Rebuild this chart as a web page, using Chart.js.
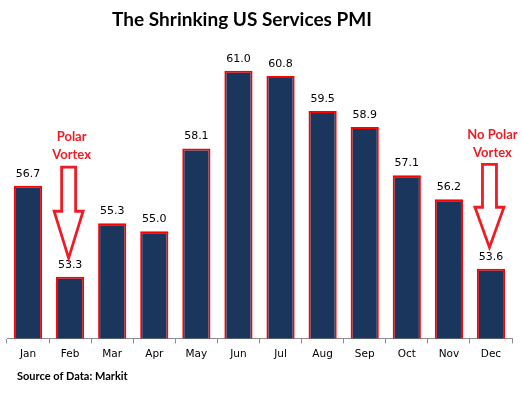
<!DOCTYPE html>
<html lang="en">
<head>
    <meta charset="UTF-8">
    <title>The Shrinking US Services PMI</title>
    <script src="https://cdn.jsdelivr.net/npm/chart.js"></script>
    <style>
        body {
            margin: 0;
            background-color: #ffffff;
        }
        .chart-container {
            position: relative;
            width: 522px;
            height: 397px;
        }
    </style>
</head>
<body>
    <div class="chart-container">
        <canvas id="pmiChart"></canvas>
    </div>

    <script>
        // Data
        const months = ['Jan', 'Feb', 'Mar', 'Apr', 'May', 'Jun', 'Jul', 'Aug', 'Sep', 'Oct', 'Nov', 'Dec'];
        const pmiValues = [56.7, 53.3, 55.3, 55.0, 58.1, 61.0, 60.8, 59.5, 58.9, 57.1, 56.2, 53.6];

        // Annotation callouts: month index, text lines, arrow top / head base / tip in PMI units
        const callouts = [
            { index: 1, lines: ['Polar', 'Vortex'], top: 57.4, head: 55.75, tip: 54.0 },
            { index: 11, lines: ['No Polar', 'Vortex'], top: 57.5, head: 55.9, tip: 54.4 }
        ];

        const navy = '#1b365d';
        const red = '#ee1c25';

        // Value labels above each bar
        const valueLabels = {
            id: 'valueLabels',
            afterDatasetsDraw(chart) {
                const ctx = chart.ctx;
                const meta = chart.getDatasetMeta(0);
                ctx.save();
                ctx.font = '11px "DejaVu Sans"';
                ctx.fillStyle = '#000';
                ctx.textAlign = 'center';
                ctx.textBaseline = 'middle';
                meta.data.forEach((bar, i) => {
                    ctx.fillText(pmiValues[i].toFixed(1), bar.x, bar.y - 12);
                });
                ctx.restore();
            }
        };

        // Hollow red arrows with text
        const arrows = {
            id: 'arrows',
            afterDatasetsDraw(chart) {
                const ctx = chart.ctx;
                const x = chart.scales.x;
                const y = chart.scales.y;
                ctx.save();
                callouts.forEach(c => {
                    const cx = x.getPixelForValue(c.index) - 1.5;
                    const yTop = y.getPixelForValue(c.top);
                    const yHead = y.getPixelForValue(c.head);
                    const yTip = y.getPixelForValue(c.tip);
                    const shaft = 7;
                    const wing = 14.5;
                    ctx.beginPath();
                    ctx.moveTo(cx - shaft, yTop);
                    ctx.lineTo(cx + shaft, yTop);
                    ctx.lineTo(cx + shaft, yHead);
                    ctx.lineTo(cx + wing, yHead);
                    ctx.lineTo(cx, yTip);
                    ctx.lineTo(cx - wing, yHead);
                    ctx.lineTo(cx - shaft, yHead);
                    ctx.closePath();
                    ctx.fillStyle = '#fff';
                    ctx.fill();
                    ctx.lineWidth = 2.8;
                    ctx.strokeStyle = red;
                    ctx.stroke();

                    ctx.font = 'bold 13px Lato';
                    ctx.fillStyle = red;
                    ctx.textAlign = 'center';
                    ctx.textBaseline = 'middle';
                    c.lines.forEach((line, k) => {
                        ctx.fillText(line, cx + 3, yTop - 30 + k * 18);
                    });
                });
                ctx.restore();
            }
        };

        // Title and source note
        const texts = {
            id: 'texts',
            afterDraw(chart) {
                const ctx = chart.ctx;
                ctx.save();
                ctx.fillStyle = '#000';
                ctx.textBaseline = 'middle';
                ctx.textAlign = 'center';
                ctx.font = 'bold 19px Lato';
                ctx.fillText('The Shrinking US Services PMI', 242, 20);
                ctx.textAlign = 'left';
                ctx.font = 'bold 11px Lato';
                ctx.fillText('Source of Data: Markit', 17, 376);
                ctx.restore();
            }
        };

        const ctx = document.getElementById('pmiChart').getContext('2d');
        new Chart(ctx, {
            type: 'bar',
            data: {
                labels: months,
                datasets: [{
                    data: pmiValues,
                    backgroundColor: navy,
                    borderColor: '#ff0000',
                    borderWidth: 2,
                    categoryPercentage: 1,
                    barPercentage: 0.67
                }]
            },
            options: {
                responsive: true,
                maintainAspectRatio: false,
                animation: false,
                layout: {
                    padding: { left: 7, right: 10, top: 44, bottom: 31 }
                },
                plugins: {
                    legend: { display: false },
                    title: { display: false },
                    tooltip: { enabled: false }
                },
                scales: {
                    x: {
                        grid: {
                            drawOnChartArea: false,
                            drawTicks: true,
                            tickLength: 5,
                            color: '#8c8c8c'
                        },
                        border: { display: true, color: '#8c8c8c' },
                        ticks: {
                            padding: 5,
                            color: '#000',
                            font: { family: 'DejaVu Sans', size: 10.5 }
                        }
                    },
                    y: {
                        display: false,
                        min: 51,
                        max: 62
                    }
                }
            },
            plugins: [valueLabels, arrows, texts]
        });
    </script>
</body>
</html>
